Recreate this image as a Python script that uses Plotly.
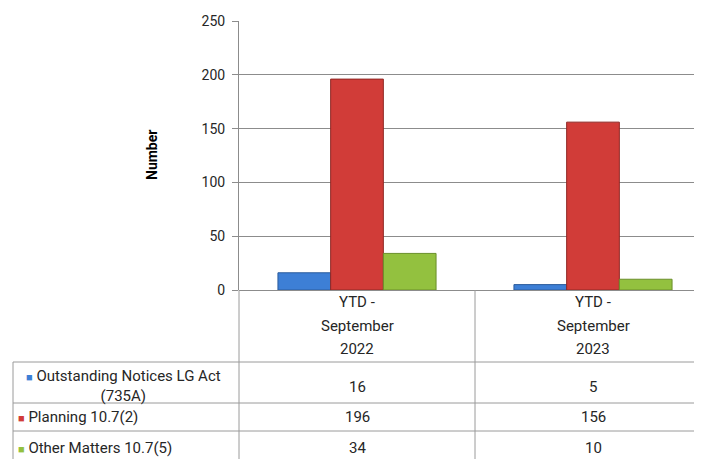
import plotly.graph_objects as go

FAMILY = "Roboto"

periods = ["YTD - September 2022", "YTD - September 2023"]
period_lines = [["YTD -", "September", "2022"], ["YTD -", "September", "2023"]]
series_names = ["Outstanding Notices LG Act (735A)", "Planning 10.7(2)", "Other Matters 10.7(5)"]
table_labels = ["Outstanding Notices LG Act<br>(735A)", "Planning 10.7(2)", "Other Matters 10.7(5)"]
outstanding = [16, 5]
planning = [196, 156]
other_matters = [34, 10]
y_ticks = [0, 50, 100, 150, 200, 250]

colors = ["#3d7fd6", "#d13c38", "#93c13f"]
edges = ["#2c5c9c", "#8f2825", "#6a8f2a"]

# page body has an 8px margin, so keep the figure inside the window
OFF = 8
W, H = 702 - 2 * OFF, 467 - 2 * OFF


def py(v):
    # screen pixel row -> paper y
    return 1 - (v - OFF) / H


def px(v):
    # screen pixel column -> paper x
    return (v - OFF) / W


fig = go.Figure()
for name, vals, c, e in zip(series_names, [outstanding, planning, other_matters], colors, edges):
    fig.add_trace(go.Bar(x=periods, y=vals, name=name,
                         marker=dict(color=c, line=dict(color=e, width=1))))

# table grid lines
line_col = "#9a9a9a"
shapes = []
for yy in [362, 403, 431]:
    shapes.append(dict(type="line", xref="paper", yref="paper", x0=px(13), x1=1,
                       y0=py(yy), y1=py(yy), line=dict(color=line_col, width=1)))
shapes.append(dict(type="line", xref="paper", yref="paper", x0=px(13), x1=px(13),
                   y0=py(362), y1=0, line=dict(color=line_col, width=1)))
shapes.append(dict(type="line", xref="paper", yref="paper", x0=px(239), x1=px(239),
                   y0=py(290), y1=0, line=dict(color=line_col, width=1)))
shapes.append(dict(type="line", xref="x", yref="paper", x0=0.5, x1=0.5,
                   y0=py(290), y1=0, line=dict(color=line_col, width=1)))

txt_font = dict(size=15, color="#262626")
annotations = []
# category headers
for cat, lines in zip(periods, period_lines):
    for i, t in enumerate(lines):
        annotations.append(dict(x=cat, xref="x", y=py(302 + 23.5 * i), yref="paper", text=t,
                                xanchor="center", yanchor="middle", showarrow=False, font=txt_font))

row_y = [387, 417, 448]
# series labels with colour keys
for i, (lab, c) in enumerate(zip(table_labels, colors)):
    txt = "<span style='color:%s;font-size:11px'>■</span> %s" % (c, lab)
    if i == 0:
        annotations.append(dict(x=px(124), xref="paper", y=py(row_y[i] - 1), yref="paper", text=txt,
                                xanchor="center", yanchor="middle", showarrow=False, align="center",
                                font=txt_font))
    else:
        annotations.append(dict(x=px(16), xref="paper", xanchor="left", y=py(row_y[i]), yref="paper",
                                yanchor="middle", text=txt, showarrow=False, font=txt_font))
    vals = [outstanding, planning, other_matters][i]
    for cat, v in zip(periods, vals):
        annotations.append(dict(x=cat, xref="x", y=py(row_y[i]), yref="paper", text=str(v),
                                xanchor="center", yanchor="middle", showarrow=False, font=txt_font))

annotations.append(dict(x=px(152), xref="paper", y=py(155), yref="paper", text="<b>Number</b>",
                        xanchor="center", yanchor="middle",
                        textangle=-90, showarrow=False, font=dict(size=14, color="#000000")))

# category width in the reference is ~236px, the window cuts the plot on the right
x_end = -0.5 + (702 - OFF - 239) / 236

fig.update_layout(
    template="none",
    width=W, height=H,
    margin=dict(l=0, r=0, t=0, b=0, pad=0),
    paper_bgcolor="white", plot_bgcolor="white",
    font=dict(family=FAMILY, size=14, color="#262626"),
    barmode="group", bargap=0.33, bargroupgap=0,
    showlegend=False,
    shapes=shapes,
    annotations=annotations,
    xaxis=dict(domain=[px(239), 1], range=[-0.5, x_end], showticklabels=False, automargin=False,
               showgrid=False, zeroline=False, showline=False, ticks=""),
    yaxis=dict(domain=[py(290), py(21)], range=[0, 250], tickvals=y_ticks, automargin=False,
               showgrid=True, gridcolor="#8c8c8c", gridwidth=1,
               zeroline=True, zerolinecolor="#8c8c8c", zerolinewidth=1,
               showline=True, linecolor="#8c8c8c", linewidth=1,
               ticks="outside", ticklen=6, tickcolor="#8c8c8c", ticklabelstandoff=4,
               tickfont=dict(size=14, color="#262626")),
)

fig.write_html("out.html")
